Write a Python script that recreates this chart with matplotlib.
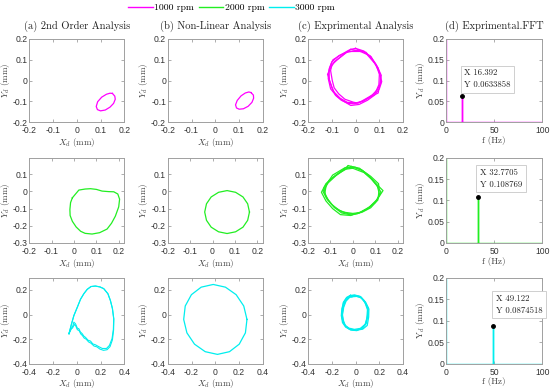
import matplotlib
matplotlib.use("Agg")
import matplotlib.pyplot as plt
from matplotlib.lines import Line2D

plt.rcParams['font.family'] = ['Liberation Sans', 'DejaVu Sans']
plt.rcParams['mathtext.fontset'] = 'cm'
plt.rcParams['axes.unicode_minus'] = False

speeds = ['1000 rpm', '2000 rpm', '3000 rpm']
colors = ['#ff00ff', '#22ee22', '#00eeee']
titles = ['(a) 2nd Order Analysis', '(b) Non-Linear Analysis',
          '(c) Exprimental Analysis', '(d) Exprimental.FFT']

# (a) 2nd order orbits, mm
so_x = [
    [0.150, 0.160, 0.162, 0.155, 0.140, 0.120, 0.100, 0.087, 0.082, 0.088, 0.105, 0.125, 0.140, 0.150],
    [-0.007, 0.022, 0.050, 0.074, 0.100, 0.126, 0.155, 0.178, 0.196, 0.204, 0.200, 0.185, 0.168, 0.148,
     0.115, 0.081, 0.050, 0.030, 0.010, -0.007, -0.017, -0.018, -0.015, -0.007],
]
so_y = [
    [-0.062, -0.075, -0.090, -0.110, -0.128, -0.142, -0.146, -0.140, -0.125, -0.102, -0.080, -0.066, -0.061, -0.062],
    [-0.037, 0.008, 0.014, 0.016, 0.012, 0.002, -0.001, -0.002, -0.015, -0.045, -0.090, -0.144, -0.185, -0.219,
     -0.240, -0.248, -0.244, -0.232, -0.207, -0.174, -0.140, -0.105, -0.065, -0.037],
]
# 3000 rpm 2nd order: two passes (lower part wavy)
so3_x = [
    [-0.065, -0.045, -0.024, 0.005, 0.032, 0.060, 0.088, 0.120, 0.157, 0.195, 0.227, 0.262, 0.283, 0.300, 0.311,
     0.308, 0.297, 0.275, 0.250, 0.215, 0.185, 0.157, 0.135, 0.116, 0.095, 0.074, 0.060, 0.046, 0.030, 0.018,
     0.005, -0.010, -0.024, -0.032, -0.038, -0.052, -0.065],
    [-0.065, -0.045, -0.024, 0.005, 0.032, 0.060, 0.088, 0.120, 0.157, 0.195, 0.227, 0.262, 0.283, 0.300, 0.312,
     0.310, 0.300, 0.280, 0.255, 0.225, 0.195, 0.170, 0.145, 0.120, 0.100, 0.080, 0.062, 0.048, 0.035, 0.020,
     0.005, -0.008, -0.020, -0.035, -0.050, -0.060, -0.065],
]
so3_y = [
    [-0.155, -0.080, -0.008, 0.060, 0.125, 0.170, 0.205, 0.228, 0.232, 0.225, 0.211, 0.170, 0.115, 0.050, -0.035,
     -0.120, -0.195, -0.250, -0.275, -0.275, -0.260, -0.245, -0.238, -0.215, -0.208, -0.185, -0.175, -0.155,
     -0.140, -0.115, -0.110, -0.075, -0.061, -0.090, -0.101, -0.128, -0.155],
    [-0.155, -0.080, -0.008, 0.060, 0.125, 0.170, 0.205, 0.228, 0.232, 0.225, 0.211, 0.170, 0.115, 0.050, -0.035,
     -0.125, -0.205, -0.260, -0.285, -0.290, -0.280, -0.262, -0.255, -0.232, -0.222, -0.200, -0.190, -0.170,
     -0.158, -0.130, -0.122, -0.092, -0.080, -0.108, -0.118, -0.140, -0.155],
]

# (b) non-linear orbits
nl_x = [
    [0.150, 0.160, 0.161, 0.154, 0.138, 0.118, 0.100, 0.089, 0.085, 0.092, 0.108, 0.126, 0.141, 0.150],
    [0.165, 0.157, 0.136, 0.103, 0.065, 0.027, -0.006, -0.027, -0.035, -0.027, -0.006, 0.027, 0.065, 0.103,
     0.136, 0.157, 0.165],
    [0.266, 0.239, 0.175, 0.085, -0.018, -0.119, -0.201, -0.253, -0.266, -0.239, -0.175, -0.085, 0.018, 0.119,
     0.201, 0.253, 0.266],
]
nl_y = [
    [-0.058, -0.070, -0.085, -0.105, -0.124, -0.136, -0.138, -0.132, -0.117, -0.096, -0.074, -0.060, -0.055, -0.058],
    [-0.120, -0.072, -0.032, -0.005, 0.005, -0.005, -0.032, -0.072, -0.120, -0.168, -0.208, -0.235, -0.245,
     -0.235, -0.208, -0.168, -0.120],
    [-0.039, 0.070, 0.162, 0.223, 0.245, 0.223, 0.162, 0.070, -0.039, -0.148, -0.240, -0.301, -0.323, -0.301,
     -0.240, -0.148, -0.039],
]

# (c) experimental orbits, several revolutions each
exp_x = [
    [[0.010, 0.044, 0.071, 0.095, 0.105, 0.105, 0.090, 0.071, 0.040, 0.010, -0.010, -0.045, -0.071, -0.090, -0.098,
      -0.105, -0.100, -0.078, -0.040, 0.010],
     [-0.020, 0.030, 0.065, 0.080, 0.100, 0.110, 0.100, 0.080, 0.050, 0.015, -0.020, -0.050, -0.080, -0.105,
      -0.115, -0.110, -0.095, -0.060, -0.030, -0.020],
     [0.020, 0.060, 0.085, 0.100, 0.098, 0.085, 0.060, 0.030, 0.000, -0.035, -0.065, -0.095, -0.110, -0.112,
      -0.100, -0.070, -0.030, 0.020],
     [0.000, 0.035, 0.060, 0.090, 0.108, 0.100, 0.095, 0.060, 0.030, -0.005, -0.030, -0.060, -0.085, -0.100,
      -0.118, -0.100, -0.090, -0.050, -0.020, 0.000]],
    [[-0.007, 0.040, 0.077, 0.105, 0.126, 0.105, 0.070, 0.030, -0.007, -0.050, -0.084, -0.115, -0.133, -0.110,
      -0.077, -0.040, -0.007],
     [0.000, 0.050, 0.085, 0.110, 0.120, 0.100, 0.060, 0.020, -0.020, -0.060, -0.095, -0.120, -0.130, -0.105,
      -0.070, -0.030, 0.000],
     [-0.020, 0.030, 0.070, 0.100, 0.135, 0.110, 0.075, 0.035, -0.010, -0.055, -0.090, -0.120, -0.140, -0.120,
      -0.085, -0.050, -0.020],
     [0.010, 0.045, 0.080, 0.115, 0.118, 0.112, 0.080, 0.040, 0.000, -0.045, -0.080, -0.110, -0.125, -0.118,
      -0.090, -0.035, 0.010]],
    [[-0.042, 0.000, 0.042, 0.085, 0.112, 0.110, 0.098, 0.060, 0.000, -0.045, -0.084, -0.110, -0.117, -0.112,
      -0.103, -0.075, -0.042],
     [-0.030, 0.010, 0.050, 0.080, 0.100, 0.095, 0.080, 0.040, -0.010, -0.055, -0.090, -0.105, -0.110, -0.100,
      -0.080, -0.050, -0.030],
     [-0.050, -0.010, 0.030, 0.070, 0.100, 0.105, 0.090, 0.050, 0.010, -0.040, -0.080, -0.105, -0.120, -0.115,
      -0.100, -0.075, -0.050],
     [-0.035, 0.005, 0.045, 0.078, 0.108, 0.100, 0.085, 0.055, 0.005, -0.050, -0.085, -0.100, -0.113, -0.105,
      -0.090, -0.060, -0.035]],
]
exp_y = [
    [[0.147, 0.136, 0.100, 0.060, 0.016, -0.016, -0.045, -0.069, -0.090, -0.109, -0.104, -0.090, -0.064, -0.035,
      0.000, 0.048, 0.075, 0.099, 0.135, 0.147],
     [0.150, 0.140, 0.115, 0.085, 0.040, -0.005, -0.040, -0.070, -0.095, -0.115, -0.120, -0.100, -0.075, -0.040,
      0.010, 0.060, 0.100, 0.125, 0.145, 0.150],
     [0.140, 0.120, 0.080, 0.030, -0.020, -0.055, -0.080, -0.100, -0.108, -0.105, -0.085, -0.050, 0.000, 0.050,
      0.090, 0.120, 0.140, 0.140],
     [0.155, 0.142, 0.110, 0.070, 0.025, -0.030, -0.060, -0.080, -0.100, -0.112, -0.110, -0.095, -0.070, -0.030,
      0.030, 0.070, 0.090, 0.125, 0.150, 0.155]],
    [[0.145, 0.125, 0.082, 0.040, -0.004, -0.055, -0.098, -0.125, -0.137, -0.125, -0.091, -0.045, 0.000, 0.050,
      0.090, 0.125, 0.145],
     [0.135, 0.110, 0.070, 0.030, -0.020, -0.065, -0.105, -0.130, -0.130, -0.110, -0.075, -0.030, 0.020, 0.065,
      0.100, 0.130, 0.135],
     [0.150, 0.135, 0.095, 0.050, 0.005, -0.045, -0.090, -0.120, -0.140, -0.135, -0.100, -0.055, -0.005, 0.045,
      0.085, 0.120, 0.150],
     [0.140, 0.120, 0.088, 0.045, 0.010, -0.050, -0.095, -0.122, -0.128, -0.120, -0.095, -0.050, -0.010, 0.040,
      0.095, 0.138, 0.140]],
    [[0.157, 0.155, 0.147, 0.100, 0.045, -0.020, -0.088, -0.118, -0.128, -0.122, -0.101, -0.065, -0.021, 0.040,
      0.099, 0.140, 0.157],
     [0.145, 0.148, 0.135, 0.095, 0.040, -0.030, -0.080, -0.112, -0.120, -0.110, -0.085, -0.050, 0.000, 0.060,
      0.110, 0.140, 0.145],
     [0.150, 0.160, 0.150, 0.115, 0.060, 0.000, -0.070, -0.110, -0.130, -0.125, -0.100, -0.060, -0.010, 0.050,
      0.100, 0.135, 0.150],
     [0.152, 0.150, 0.140, 0.105, 0.050, -0.010, -0.078, -0.115, -0.125, -0.118, -0.092, -0.055, -0.005, 0.055,
      0.105, 0.138, 0.152]],
]

# (d) FFT peaks
peak_f = [16.392, 32.7705, 49.122]
peak_a = [0.0633858, 0.108769, 0.0874518]
peak_f_txt = ['16.392', '32.7705', '49.122']
peak_a_txt = ['0.0633858', '0.108769', '0.0874518']
dc_a = [0.30, 0.30, 0.30]
f_max = 100

orbit_lim = [((-0.2, 0.2), (-0.2, 0.2)), ((-0.2, 0.225), (-0.3, 0.195)), ((-0.4, 0.4), (-0.4, 0.3))]
orbit_ticks = [([-0.2, -0.1, 0, 0.1, 0.2], [-0.2, -0.1, 0, 0.1, 0.2]),
               ([-0.2, -0.1, 0, 0.1, 0.2], [-0.3, -0.2, -0.1, 0, 0.1]),
               ([-0.4, -0.2, 0, 0.2, 0.4], [-0.4, -0.2, 0, 0.2])]

fig = plt.figure(figsize=(5.5, 3.9), dpi=100)
rows_y = [(0.687, 0.213), (0.377, 0.218), (0.067, 0.221)]
cols_x = [(0.053, 0.173), (0.305, 0.173), (0.560, 0.173), (0.811, 0.175)]

spine_c = '#a0a0a0'
serif = 'cmr10'
lab = dict(fontsize=6.5, color='#404040', family=serif)


def style(ax):
    for s in ax.spines.values():
        s.set_color(spine_c)
        s.set_linewidth(0.7)
    ax.tick_params(direction='in', length=2.5, width=0.6, color=spine_c, labelsize=6.2,
                   labelcolor='#333333', top=True, right=True)
    ax.tick_params(axis='x', pad=2.8)
    ax.tick_params(axis='y', pad=1.2)


for r in range(3):
    c = colors[r]
    axes = []
    for col in range(4):
        ax = fig.add_axes([cols_x[col][0], rows_y[r][0], cols_x[col][1], rows_y[r][1]])
        style(ax)
        axes.append(ax)
    # (a)
    ax = axes[0]
    if r < 2:
        ax.plot(so_x[r], so_y[r], color=c, lw=0.9)
    else:
        for k in range(2):
            ax.plot(so3_x[k], so3_y[k], color=c, lw=0.8)
    # (b)
    axes[1].plot(nl_x[r], nl_y[r], color=c, lw=0.9)
    # (c)
    for k in range(len(exp_x[r])):
        axes[2].plot(exp_x[r][k], exp_y[r][k], color=c, lw=0.9)
    for ax in axes[:3]:
        ax.set_xlim(orbit_lim[r][0])
        ax.set_ylim(orbit_lim[r][1])
        ax.set_xticks(orbit_ticks[r][0])
        ax.set_yticks(orbit_ticks[r][1])
        ax.set_xticklabels(['%g' % v for v in orbit_ticks[r][0]])
        ax.set_yticklabels(['%g' % v for v in orbit_ticks[r][1]])
        ax.set_ylabel(r'$Y_d$ (mm)', labelpad=0.5, **lab)
        if not (r == 0 and ax is axes[2]):
            ax.set_xlabel(r'$X_d$ (mm)', labelpad=0.5, **lab)
    # (d)
    ax = axes[3]
    fp, ap = peak_f[r], peak_a[r]
    ax.plot([0, 0, fp, fp, fp, f_max], [dc_a[r], 0, 0, ap, 0, 0], color=c, lw=1.0)
    ax.plot([fp], [ap], 'o', color='black', ms=2.5)
    ax.set_xlim(0, f_max)
    ax.set_ylim(0, 0.2)
    ax.set_xticks([0, 50, 100])
    ax.set_yticks([0, 0.05, 0.1, 0.15, 0.2])
    ax.set_yticklabels(['0', '0.05', '0.1', '0.15', '0.2'])
    ax.set_ylabel(r'Y$_d$ (mm)', labelpad=0.5, **lab)
    ax.set_xlabel('f (Hz)', labelpad=0.5, **lab)
    tip_dy = [0.016, 0.019, 0.027]
    ax.text(fp + 2.5, ap + tip_dy[r],
            'X ' + peak_f_txt[r] + '\n' + 'Y ' + peak_a_txt[r],
            fontsize=6.3, color='#222222', ha='left', va='bottom', linespacing=1.5, family=serif,
            bbox=dict(boxstyle='square,pad=0.4', fc='white', ec='#c8c8c8', lw=0.6))
    if r == 0:
        for col in range(4):
            axes[col].set_title(titles[col], fontsize=7.6, pad=7, color='#222222', family=serif)

handles = [Line2D([], [], color=colors[i], lw=1.0) for i in range(3)]
fig.legend(handles, speeds, loc='center', bbox_to_anchor=(0.421, 0.98), ncol=3, frameon=False,
           prop={'family': serif, 'size': 7}, handlelength=2.5, handletextpad=0.15, columnspacing=0.5)

fig.savefig('out.png', dpi=100)
